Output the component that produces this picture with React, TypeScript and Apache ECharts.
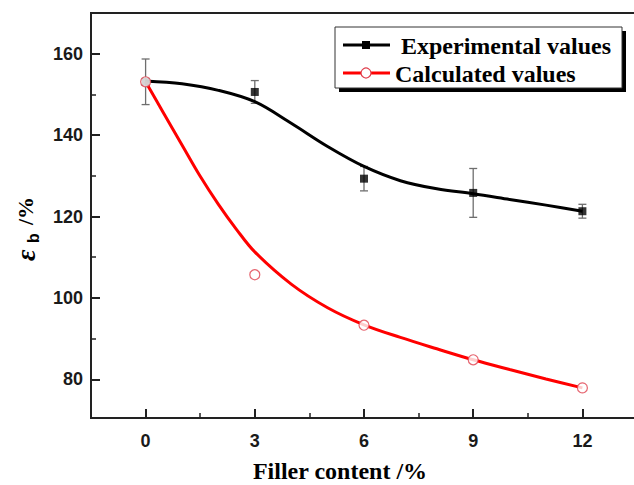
import React, { useEffect, useRef } from "react";
import * as echarts from "echarts";

// ---- data ----
const fillerContent = [0, 3, 6, 9, 12];
const experimental = [153.1, 150.6, 129.3, 125.8, 121.3];
const experimentalError = [5.6, 2.8, 3.0, 6.0, 1.7];
const calculated = [153.1, 105.7, 93.3, 84.8, 77.9];

// fitted curves
const expFitX = [0, 1, 2, 3, 4, 5, 6, 7, 8, 9, 10, 11, 12];
const expFitY = [153.3, 152.6, 151.0, 148.2, 142.9, 137.2, 132.3, 128.8, 126.8, 125.6, 124.2, 122.8, 121.3];
const calcFitX = [0, 0.5, 1, 1.5, 2, 2.5, 3, 4, 5, 6, 7, 8, 9, 10, 11, 12];
const calcFitY = [153.1, 145.3, 137.6, 129.9, 123.0, 116.8, 111.3, 103.4, 97.6, 93.4, 90.3, 87.5, 84.8, 82.4, 80.1, 77.9];

// axis ticks
const xMajorTicks = [0, 3, 6, 9, 12];
const xMinorTicks = [1.5, 4.5, 7.5, 10.5];
const yMajorTicks = [80, 100, 120, 140, 160];
const yMinorTicks = [90, 110, 130, 150];

const legendNames = ["Experimental values", "Calculated values"];

const SERIF = '"Liberation Serif", "Times New Roman", serif';
const SANS = '"Liberation Sans", Arial, sans-serif';
const AXIS_COLOR = "#222";

export default function App() {
  const ref = useRef<HTMLDivElement>(null);

  useEffect(() => {
    if (!ref.current) return;
    const chart = echarts.init(ref.current, null, { renderer: "svg" });

    const xMin = -1.5, xMax = 13.5, yMin = 70.5, yMax = 170;

    const labelStyle = { fontFamily: SANS, fontWeight: "bold" as const, fontSize: 18, color: "#1a1a1a" };

    const errData = fillerContent.map((x, i) => [
      x,
      experimental[i],
      experimental[i] - experimentalError[i],
      experimental[i] + experimentalError[i],
    ]);

    const option: any = {
      animation: false,
      backgroundColor: "#fff",
      grid: {
        left: 91,
        top: 13,
        width: 546,
        height: 405,
        show: true,
        borderColor: AXIS_COLOR,
        borderWidth: 2,
        backgroundColor: "transparent",
      },
      xAxis: [
        {
          type: "value",
          min: xMin,
          max: xMax,
          position: "bottom",
          axisLine: { show: true, onZero: false, lineStyle: { color: AXIS_COLOR, width: 2 } },
          axisTick: { show: true, inside: true, length: 9, customValues: xMajorTicks, lineStyle: { color: AXIS_COLOR, width: 2 } },
          axisLabel: { show: true, customValues: xMajorTicks, margin: 14, ...labelStyle },
          splitLine: { show: false },
        },
        {
          type: "value",
          min: xMin,
          max: xMax,
          position: "bottom",
          axisLine: { show: false, onZero: false },
          axisTick: { show: true, inside: true, length: 5, customValues: xMinorTicks, lineStyle: { color: AXIS_COLOR, width: 1.5 } },
          axisLabel: { show: false },
          splitLine: { show: false },
        },
      ],
      yAxis: [
        {
          type: "value",
          min: yMin,
          max: yMax,
          position: "left",
          axisLine: { show: true, onZero: false, lineStyle: { color: AXIS_COLOR, width: 2 } },
          axisTick: { show: true, inside: true, length: 9, customValues: yMajorTicks, lineStyle: { color: AXIS_COLOR, width: 2 } },
          axisLabel: { show: true, customValues: yMajorTicks, margin: 8, ...labelStyle },
          splitLine: { show: false },
        },
        {
          type: "value",
          min: yMin,
          max: yMax,
          position: "left",
          axisLine: { show: false, onZero: false },
          axisTick: { show: true, inside: true, length: 5, customValues: yMinorTicks, lineStyle: { color: AXIS_COLOR, width: 1.5 } },
          axisLabel: { show: false },
          splitLine: { show: false },
        },
      ],
      series: [
        {
          name: "errorbars",
          type: "custom",
          xAxisIndex: 0,
          yAxisIndex: 0,
          data: errData,
          encode: { x: 0, y: [1, 2, 3] },
          z: 1,
          renderItem: (params: any, api: any) => {
            const x = api.value(0);
            const lo = api.value(2);
            const hi = api.value(3);
            const pHi = api.coord([x, hi]);
            const pLo = api.coord([x, lo]);
            const w = 4;
            const st = { stroke: "#6e6e6e", lineWidth: 1.3 };
            return {
              type: "group",
              children: [
                { type: "line", shape: { x1: pHi[0], y1: pHi[1], x2: pLo[0], y2: pLo[1] }, style: st },
                { type: "line", shape: { x1: pHi[0] - w, y1: pHi[1], x2: pHi[0] + w, y2: pHi[1] }, style: st },
                { type: "line", shape: { x1: pLo[0] - w, y1: pLo[1], x2: pLo[0] + w, y2: pLo[1] }, style: st },
              ],
            };
          },
        },
        {
          name: "expFit",
          type: "line",
          data: expFitX.map((x, i) => [x, expFitY[i]]),
          smooth: 0.35,
          showSymbol: false,
          lineStyle: { color: "#000", width: 3 },
          z: 2,
        },
        {
          name: "calcFit",
          type: "line",
          data: calcFitX.map((x, i) => [x, calcFitY[i]]),
          smooth: 0.35,
          showSymbol: false,
          lineStyle: { color: "#f00", width: 3 },
          z: 3,
        },
        {
          name: legendNames[0],
          type: "scatter",
          data: fillerContent.map((x, i) => [x, experimental[i]]),
          symbol: "rect",
          symbolSize: 8,
          itemStyle: { color: "#000" },
          z: 4,
        },
        {
          name: legendNames[1],
          type: "scatter",
          data: fillerContent.map((x, i) => [x, calculated[i]]),
          symbol: "circle",
          symbolSize: 10,
          itemStyle: { color: "#fff", borderColor: "#e0404e", borderWidth: 1.2 },
          z: 5,
        },
      ],
      graphic: [
        // legend shadow and box
        { type: "rect", shape: { x: 339, y: 31, width: 287, height: 61 }, style: { fill: "#000" }, z: 100 },
        { type: "rect", shape: { x: 335, y: 27, width: 287, height: 61 }, style: { fill: "#fff", stroke: "#333", lineWidth: 1 }, z: 101 },
        { type: "line", shape: { x1: 343, y1: 45, x2: 390, y2: 45 }, style: { stroke: "#000", lineWidth: 3 }, z: 102 },
        { type: "rect", shape: { x: 362, y: 41, width: 8, height: 8 }, style: { fill: "#000" }, z: 103 },
        {
          type: "text", x: 401, y: 46, z: 103,
          style: { text: legendNames[0], font: `bold 24px ${SERIF}`, fill: "#000", verticalAlign: "middle" },
        },
        { type: "line", shape: { x1: 343, y1: 73, x2: 390, y2: 73 }, style: { stroke: "#f00", lineWidth: 3 }, z: 102 },
        { type: "circle", shape: { cx: 366, cy: 73, r: 5 }, style: { fill: "#fff", stroke: "#e0404e", lineWidth: 1.2 }, z: 103 },
        {
          type: "text", x: 395, y: 74, z: 103,
          style: { text: legendNames[1], font: `bold 24px ${SERIF}`, fill: "#000", verticalAlign: "middle" },
        },
        // x axis title
        {
          type: "text", x: 340, y: 471, z: 103,
          style: { text: "Filler content /%", font: `bold 24px ${SERIF}`, fill: "#000", align: "center", verticalAlign: "middle" },
        },
        // y axis title (rotated)
        {
          type: "group", x: 25, y: 230, rotation: Math.PI / 2, z: 103,
          children: [
            { type: "text", x: -31, y: 0, style: { text: "ε", font: `italic bold 28px ${SERIF}`, fill: "#000", align: "left", verticalAlign: "middle" } },
            { type: "text", x: -13, y: 8, style: { text: "b", font: `bold 16px ${SANS}`, fill: "#000", align: "left", verticalAlign: "middle" } },
            { type: "text", x: 5, y: 0, style: { text: "/%", font: `bold 22px ${SERIF}`, fill: "#000", align: "left", verticalAlign: "middle" } },
          ],
        },
      ],
    };

    chart.setOption(option);
    return () => chart.dispose();
  }, []);

  return (
    <div
      ref={ref}
      style={{ position: "fixed", left: 0, top: 0, width: 660, height: 485, background: "#fff" }}
    />
  );
}
